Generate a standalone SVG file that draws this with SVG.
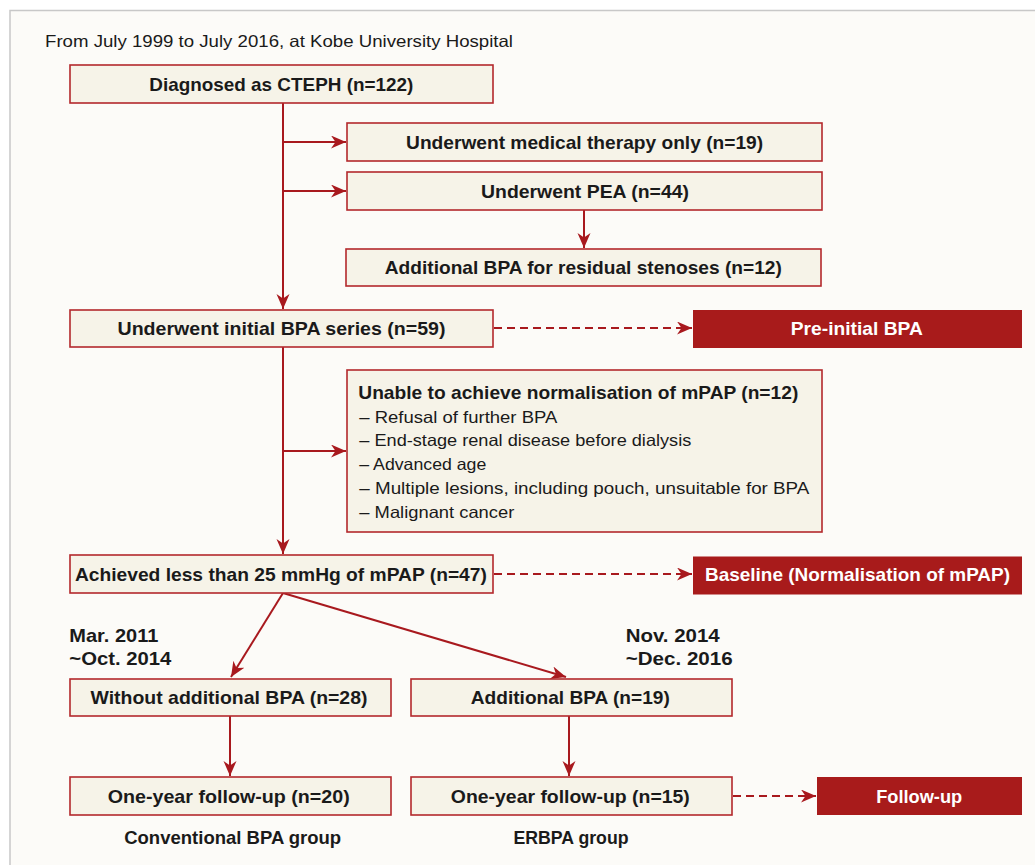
<svg xmlns="http://www.w3.org/2000/svg" width="1035" height="865" viewBox="0 0 1035 865">
<defs>
<marker id="ah" markerUnits="userSpaceOnUse" markerWidth="16" markerHeight="14" refX="15" refY="6.5" orient="auto">
<path d="M0,0 L15,6.5 L0,13 L4.5,6.5 Z" fill="#a8191e"/>
</marker>
<style>
.box{fill:#f6f3e8;stroke:#b3282c;stroke-width:1.6}
.fbox{fill:#a81b1b}
.ln{fill:none;stroke:#a8191e;stroke-width:2}
.dash{fill:none;stroke:#a8191e;stroke-width:2;stroke-dasharray:8 5}
.b{font-family:"Liberation Sans",Arial,sans-serif;font-weight:bold;font-size:19px;fill:#1a1a1a}
.bc{text-anchor:middle}
.w{fill:#ffffff}
.r{font-family:"Liberation Sans",Arial,sans-serif;font-size:16.5px;fill:#1a1a1a}
</style>
</defs>
<rect x="10" y="10.5" width="1030" height="860" fill="#fcfbf8" stroke="#c8c8c8" stroke-width="1.5"/>
<text class="r" x="45" y="47" textLength="468" lengthAdjust="spacingAndGlyphs">From July 1999 to July 2016, at Kobe University Hospital</text>

<g id="connectors">
<path class="ln" d="M283,103 V309" marker-end="url(#ah)"/>
<path class="ln" d="M283,142 H346" marker-end="url(#ah)"/>
<path class="ln" d="M283,191 H346" marker-end="url(#ah)"/>
<path class="ln" d="M584,210 V248" marker-end="url(#ah)"/>
<path class="ln" d="M283,347 V554" marker-end="url(#ah)"/>
<path class="ln" d="M283,451 H346" marker-end="url(#ah)"/>
<path class="ln" d="M283,593 L231,677" marker-end="url(#ah)"/>
<path class="ln" d="M283,593 L566,677" marker-end="url(#ah)"/>
<path class="ln" d="M230,716 V776" marker-end="url(#ah)"/>
<path class="ln" d="M569,716 V776" marker-end="url(#ah)"/>
<path class="dash" d="M494,328 H692" marker-end="url(#ah)"/>
<path class="dash" d="M494,574 H692" marker-end="url(#ah)"/>
<path class="dash" d="M733,796 H816" marker-end="url(#ah)"/>
</g>

<g id="n-diagnosed">
<rect class="box" x="70" y="65" width="423" height="38"/>
<text class="b bc" x="281.3" y="91" textLength="264" lengthAdjust="spacingAndGlyphs">Diagnosed as CTEPH (n=122)</text>
</g>
<g id="n-medical">
<rect class="box" x="347" y="123" width="475" height="38"/>
<text class="b bc" x="584.6" y="149" textLength="357" lengthAdjust="spacingAndGlyphs">Underwent medical therapy only (n=19)</text>
</g>
<g id="n-pea">
<rect class="box" x="347" y="172" width="475" height="38"/>
<text class="b bc" x="585" y="198" textLength="208" lengthAdjust="spacingAndGlyphs">Underwent PEA (n=44)</text>
</g>
<g id="n-residual">
<rect class="box" x="346" y="249" width="475" height="37"/>
<text class="b bc" x="583.3" y="274" textLength="397" lengthAdjust="spacingAndGlyphs">Additional BPA for residual stenoses (n=12)</text>
</g>
<g id="n-initial">
<rect class="box" x="70" y="310" width="423" height="37"/>
<text class="b bc" x="281.5" y="335" textLength="328" lengthAdjust="spacingAndGlyphs">Underwent initial BPA series (n=59)</text>
</g>
<g id="n-preinitial">
<rect class="fbox" x="693" y="310" width="329" height="38"/>
<text class="b bc w" x="856.8" y="335" textLength="132" lengthAdjust="spacingAndGlyphs">Pre-initial BPA</text>
</g>
<g id="n-unable">
<rect class="box" x="347" y="370" width="475" height="162"/>
<text class="b" x="358.3" y="398.5" font-size="18" textLength="440" lengthAdjust="spacingAndGlyphs">Unable to achieve normalisation of mPAP (n=12)</text>
<text class="r" x="359.3" y="422.7" textLength="198" lengthAdjust="spacingAndGlyphs">– Refusal of further BPA</text>
<text class="r" x="359.3" y="446.4" textLength="332" lengthAdjust="spacingAndGlyphs">– End-stage renal disease before dialysis</text>
<text class="r" x="359.3" y="470.1" textLength="127" lengthAdjust="spacingAndGlyphs">– Advanced age</text>
<text class="r" x="359.3" y="493.8" textLength="450" lengthAdjust="spacingAndGlyphs">– Multiple lesions, including pouch, unsuitable for BPA</text>
<text class="r" x="359.3" y="517.5" textLength="155" lengthAdjust="spacingAndGlyphs">– Malignant cancer</text>
</g>
<g id="n-achieved">
<rect class="box" x="70" y="555" width="423" height="38"/>
<text class="b bc" x="280.9" y="580.5" textLength="412" lengthAdjust="spacingAndGlyphs">Achieved less than 25 mmHg of mPAP (n=47)</text>
</g>
<g id="n-baseline">
<rect class="fbox" x="693" y="556.5" width="329" height="38"/>
<text class="b bc w" x="857.5" y="581" textLength="305" lengthAdjust="spacingAndGlyphs">Baseline (Normalisation of mPAP)</text>
</g>
<g id="l-period1">
<text class="b" x="69.3" y="642" textLength="89" lengthAdjust="spacingAndGlyphs">Mar. 2011</text>
<text class="b" x="69.3" y="665" textLength="102" lengthAdjust="spacingAndGlyphs">~Oct. 2014</text>
</g>
<g id="l-period2">
<text class="b" x="625.7" y="642" textLength="94" lengthAdjust="spacingAndGlyphs">Nov. 2014</text>
<text class="b" x="625.7" y="665" textLength="107" lengthAdjust="spacingAndGlyphs">~Dec. 2016</text>
</g>
<g id="n-without">
<rect class="box" x="70" y="679" width="321" height="37"/>
<text class="b bc" x="229" y="703.5" textLength="277" lengthAdjust="spacingAndGlyphs">Without additional BPA (n=28)</text>
</g>
<g id="n-additional">
<rect class="box" x="411" y="679" width="321" height="37"/>
<text class="b bc" x="570.3" y="703.5" textLength="199" lengthAdjust="spacingAndGlyphs">Additional BPA (n=19)</text>
</g>
<g id="n-fu20">
<rect class="box" x="70" y="777" width="321" height="38"/>
<text class="b bc" x="228.7" y="802.5" textLength="242" lengthAdjust="spacingAndGlyphs">One-year follow-up (n=20)</text>
</g>
<g id="n-fu15">
<rect class="box" x="411" y="777" width="321" height="38"/>
<text class="b bc" x="570.3" y="802.5" textLength="239" lengthAdjust="spacingAndGlyphs">One-year follow-up (n=15)</text>
</g>
<g id="n-followup">
<rect class="fbox" x="817" y="777" width="205" height="38"/>
<text class="b bc w" x="919.2" y="802.5" textLength="86" lengthAdjust="spacingAndGlyphs">Follow-up</text>
</g>
<g id="l-groups">
<text class="b bc" x="232.7" y="843.5" textLength="217" lengthAdjust="spacingAndGlyphs">Conventional BPA group</text>
<text class="b bc" x="571" y="843.5" textLength="115" lengthAdjust="spacingAndGlyphs">ERBPA group</text>
</g>
</svg>
